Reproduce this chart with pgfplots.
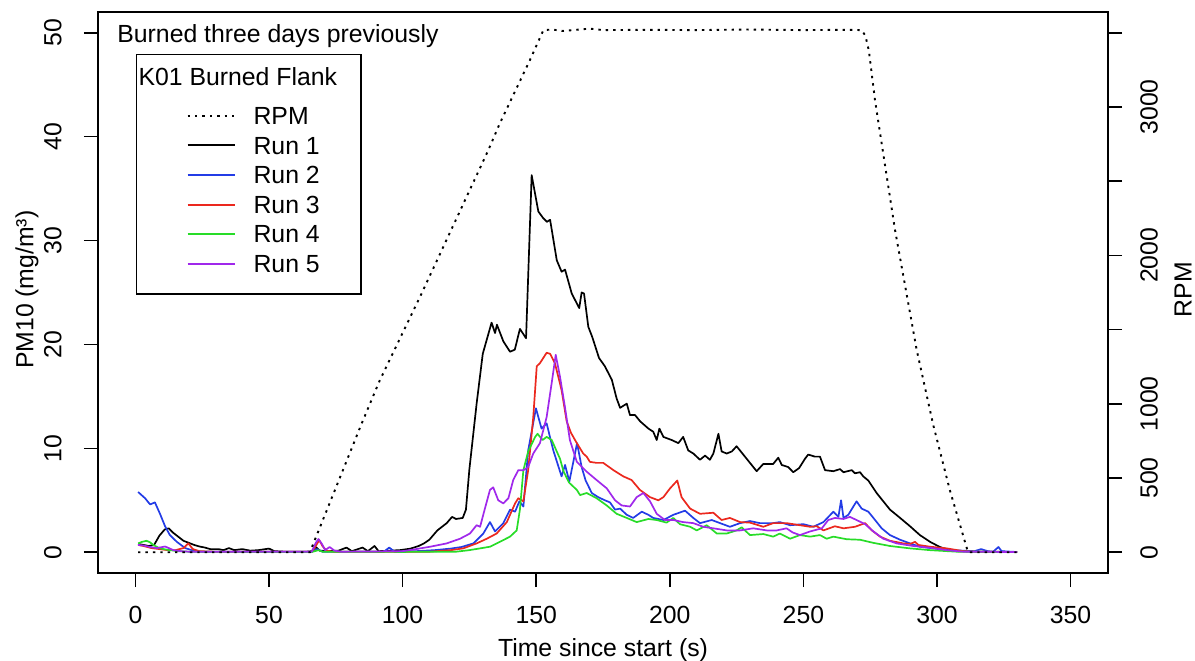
\documentclass[border=0pt]{standalone}
\usepackage{fontspec}
\setmainfont{Liberation Sans}
\usepackage{pgfplots}
\pgfplotsset{compat=1.18}
\newcommand\fs{\fontsize{12.4bp}{14.8bp}\selectfont}
\definecolor{rblue}{RGB}{35,60,230}
\definecolor{rred}{RGB}{235,40,30}
\definecolor{rgreen}{RGB}{40,220,40}
\definecolor{rpurple}{RGB}{160,40,235}
\tikzset{rpmline/.style={black, line width=0.95bp, dash pattern=on 1.2bp off 2.5bp}}
\begin{document}
\begin{tikzpicture}
\useasboundingbox (-49bp,-44bp) rectangle (548.5bp,286.5bp);
\begin{axis}[
  at={(0,0)}, anchor=south west,
  scale only axis, width=505bp, height=280.5bp,
  xmin=-14, xmax=364, ymin=-2, ymax=52,
  xtick={0,50,...,350}, ytick={0,10,...,50},
  xtick pos=left, ytick pos=left,
  tick align=outside, major tick length=7bp,
  tick style={black, line width=0.8bp},
  axis line style={black, line width=0.8bp},
  font=\fs,
  /pgf/number format/assume math mode=true,
  ticklabel style={font=\fs},
  yticklabel style={xshift=-11bp, rotate=90, anchor=south, inner sep=0pt},
  xticklabel style={yshift=-9.5bp, anchor=north, inner sep=0pt},
  xlabel={Time since start (s)},
  ylabel={PM10 (mg/m³)},
  xlabel style={at={(axis description cs:0.5,-0.137)}, anchor=center, font=\fs},
  ylabel style={at={(axis description cs:-0.0703,0.505)}, anchor=center, font=\fs},
  legend style={at={(0.0376,0.9251)}, anchor=north west, draw=black, line width=0.7bp,
    inner xsep=0pt, inner ysep=4.85bp, row sep=0pt, column sep=0pt,
    nodes={inner sep=0pt, anchor=base west, font=\fs, text height=10.4bp, text depth=4.4bp},
    cells={anchor=base west}},
  legend image code/.code={\path (-25bp,0bp) (32.5bp,0bp); \draw[#1, line width=1bp] (0bp,4.3bp) -- (23.5bp,4.3bp);},
  every axis plot/.append style={line width=0.85bp, line join=round},
]
\addlegendimage{empty legend}
\addlegendentry[text depth=9.2bp]{\hspace*{-57.5bp}K01 Burned Flank\hspace*{12bp}}
\addlegendimage{rpmline}
\addlegendentry{RPM}
% Run 1
\addplot[black] coordinates {
(1,0.8) (3,0.7) (5,0.6) (7,0.7) (9,1.6) (11,2.2) (12.5,2.3) (14,1.9) (16,1.5) (18,1.1) (20,0.9) (22,0.7) (24,0.55) (26,0.45) (28,0.3) (31,0.3) (33,0.2) (35,0.4) (37,0.2) (40,0.3) (43,0.15) (46,0.2) (50,0.35) (52,0.1) (56,0.05) (60,0.05) (64,0.05) (66,0.1) (67.5,0.5) (69,0.15) (72,0.1) (76,0.15) (79,0.45) (81,0.1) (85,0.45) (87,0.1) (89.5,0.6) (91,0.1) (95,0.15) (99,0.2) (103,0.35) (106,0.6) (108,0.85) (110,1.2) (113,2.1) (116.5,2.8) (118.5,3.4) (120,3.2) (122.5,3.3) (123.7,4.1) (125,8.0) (127.7,14.3) (130,19.1) (133.3,22.1) (134.6,21.1) (135.3,21.9) (137.7,20.3) (140.2,19.3) (142,19.5) (143.9,21.5) (146.2,20.6) (148.3,36.3) (150.8,32.8) (152.5,32.2) (154,31.8) (155.2,32.0) (157.7,28.1) (159.5,27.0) (160.8,27.2) (163.3,24.9) (166.1,23.5) (167,25.0) (167.9,24.9) (169.5,21.7) (171,20.7) (173.5,18.7) (175.7,17.9) (178.3,16.6) (180.1,14.8) (181.4,13.9) (183.9,14.3) (185.1,13.2) (187,13.2) (188.9,12.6) (192,11.9) (193.8,11.6) (195.1,10.8) (196.1,11.9) (197.6,11.1) (200.7,10.8) (203.2,10.5) (205,11.1) (206.9,9.8) (208.8,9.5) (211.3,8.9) (213.2,9.3) (215,8.9) (216.3,9.5) (218.2,11.4) (219.4,9.7) (221.3,9.5) (223.2,9.7) (225,10.2) (227.5,9.4) (230,8.6) (232.5,7.8) (235,8.5) (238.7,8.5) (240.6,9.1) (241.9,8.4) (244.3,8.2) (246.2,7.7) (248.4,8.1) (250.6,9.0) (251.8,9.4) (253.1,9.3) (254.3,9.2) (256.2,9.2) (258.1,7.9) (261.2,7.8) (263.7,8.0) (265,7.7) (268.1,7.9) (269.3,7.6) (271.2,7.7) (272.4,7.3) (274.3,6.9) (277.4,5.7) (279.9,4.9) (282.4,4.1) (286.2,3.3) (289.9,2.5) (293.6,1.65) (297.4,1.0) (301.1,0.5) (304.8,0.2) (308,0.1) (315,0.05) (322,0.05) (330,0.02)
};
\addlegendentry{Run 1}
% Run 2
\addplot[rblue] coordinates {
(1,5.8) (3.6,5.2) (5.5,4.6) (7.3,4.8) (9.2,3.7) (11.1,2.5) (12.9,1.65) (15.5,1.0) (18.6,0.4) (21.7,0.15) (25,0.05) (35,0.05) (50,0.05) (66,0.05) (68,0.3) (70,0.05) (93,0.05) (95,0.45) (97,0.05) (105,0.1) (112,0.2) (118,0.35) (122,0.5) (126.5,0.85) (130.2,1.8) (132.7,2.9) (134.6,2.0) (137.7,2.8) (140.2,4.1) (142.1,3.9) (143.7,4.9) (145.2,4.4) (147,9.8) (149.9,13.85) (152,11.9) (153.9,12.4) (156.4,9.8) (159.5,7.3) (160.8,8.4) (162.4,6.8) (165.3,10.5) (167,8.2) (168.5,6.9) (170.8,5.7) (173.2,5.3) (175.7,5.0) (177.6,4.8) (179.5,4.1) (181.4,4.2) (183.9,3.6) (186.3,3.3) (189.5,3.9) (192,3.6) (193.8,3.3) (197.6,3.1) (201.3,3.6) (205.7,4.0) (208.8,3.3) (211.3,2.8) (215.7,3.1) (218.8,2.8) (222.5,2.45) (226.3,2.8) (230,3.0) (233.7,2.8) (238.7,2.8) (241.2,2.9) (245,2.6) (250,2.7) (253.7,2.45) (257.5,2.9) (261.2,3.9) (263.1,3.4) (264.1,5.0) (265,3.3) (266.8,3.6) (268.7,4.4) (269.9,4.9) (271.8,4.2) (274.3,3.9) (276.2,3.3) (279.3,2.3) (282.4,1.65) (286.2,1.2) (289.9,0.85) (293.6,0.53) (298.6,0.37) (303.6,0.2) (309.9,0.15) (314,0.1) (316.5,0.3) (319,0.1) (321,0.05) (323,0.5) (324.2,0.1) (330,0.02)
};
\addlegendentry{Run 2}
% Run 3
\addplot[rred] coordinates {
(1,0.7) (3,0.6) (6,0.4) (9,0.3) (12,0.2) (15,0.2) (18,0.4) (19.8,0.85) (21.5,0.3) (24,0.1) (30,0.05) (50,0.05) (66,0.05) (67.5,0.6) (68.8,1.17) (70,0.6) (71.5,0.15) (74,0.05) (110,0.05) (118,0.2) (122.7,0.37) (127.7,0.85) (131.5,1.3) (135.2,1.8) (139,2.9) (142.1,4.7) (143.3,5.2) (145.2,4.9) (147,7.9) (148.9,13.0) (150.2,17.9) (151.4,18.2) (153.9,19.2) (155.2,19.1) (157,18.2) (159.5,15.6) (161.4,12.6) (163,11.5) (165.2,10.5) (167.6,9.5) (168.9,9.2) (170.1,8.7) (172.6,8.6) (175.1,8.6) (178.9,7.9) (182.6,7.3) (185.7,6.95) (188.8,6.0) (192.6,5.3) (195.7,5.0) (197.6,5.3) (200.1,6.15) (202.8,6.9) (204.4,5.3) (207.6,4.2) (211.3,3.7) (216.3,3.8) (219.4,3.1) (222.5,3.3) (226.3,2.9) (230,2.85) (235,2.45) (238.7,2.8) (243.7,2.8) (248.7,2.6) (252.5,2.45) (255,2.5) (257.5,2.1) (261.8,2.5) (265,2.3) (269.3,2.45) (273.1,2.8) (275.6,2.1) (278.7,1.5) (282.4,1.1) (287.4,0.85) (290,0.8) (291.8,1.0) (293,0.7) (297.4,0.53) (303.6,0.37) (309.9,0.1) (315,0.05) (330,0.02)
};
\addlegendentry{Run 3}
% Run 4
\addplot[rgreen] coordinates {
(1,0.85) (2.5,1.0) (4.2,1.1) (5.5,0.95) (6.7,0.7) (8.5,0.45) (10.5,0.3) (13,0.2) (16,0.1) (20,0.05) (40,0.03) (66,0.02) (68.5,0.2) (70,0.05) (100,0.03) (120,0.05) (125,0.2) (129,0.37) (132.7,0.53) (136.4,1.0) (140.2,1.5) (142.7,2.1) (143.9,4.1) (145.2,7.9) (147,9.7) (149.6,11.1) (150.5,11.4) (152.4,10.8) (153.9,11.1) (155.8,10.8) (158.9,9.0) (160.2,7.8) (162.3,6.7) (165.2,6.0) (166.4,5.5) (168.9,5.7) (172.6,5.2) (176.4,4.5) (180.1,3.7) (183.9,3.3) (187.6,2.9) (192,3.2) (195.1,3.1) (198.8,2.85) (201.3,3.3) (203.8,2.7) (207.6,2.45) (210.1,2.1) (213.8,2.6) (217.6,1.8) (221.3,1.8) (225,2.1) (226.9,2.4) (230,1.65) (235,1.75) (238.7,1.5) (241.2,1.8) (245,1.3) (248.7,1.65) (252.5,1.5) (256.2,1.65) (258.7,1.3) (261.2,1.5) (266.2,1.25) (271.2,1.2) (276.2,0.9) (282.4,0.6) (289.9,0.37) (297.4,0.2) (307.4,0.05) (330,0.02)
};
\addlegendentry{Run 4}
% Run 5
\addplot[rpurple] coordinates {
(1,0.7) (3,0.65) (5.5,0.5) (8,0.4) (11.1,0.55) (12.5,0.4) (14.2,0.2) (17,0.1) (20,0.05) (40,0.05) (66,0.05) (67.5,0.9) (68.5,1.27) (69.8,0.8) (71,0.2) (72.7,0.5) (74.5,0.15) (77,0.05) (100,0.1) (105,0.3) (110.3,0.53) (116.5,0.85) (121.5,1.3) (125.2,1.8) (127.7,2.6) (129,2.45) (130.8,4.2) (132.7,6.0) (133.9,6.25) (135.8,5.0) (137.7,4.7) (139.6,5.2) (141.4,6.95) (143.3,7.9) (145.2,7.9) (147,8.2) (148.9,9.5) (151.4,10.5) (153.9,13.0) (155.8,16.3) (157.3,19.0) (158.9,16.9) (160.8,13.9) (162.6,10.8) (165.2,8.7) (168.9,7.75) (172.6,6.95) (176.4,6.15) (179.5,5.0) (182,4.5) (185.1,4.4) (187.6,5.3) (190.1,5.7) (192.6,4.9) (195.1,3.7) (198.2,3.1) (201.3,3.1) (205,2.9) (208.8,2.8) (212.5,2.45) (216.3,2.3) (221.3,2.1) (226.3,2.1) (231.2,2.3) (236.3,2.1) (240,2.1) (243.7,2.3) (246,1.9) (248.7,1.65) (252.5,2.0) (256.9,2.3) (259.3,3.1) (261.8,3.3) (265,3.2) (267.4,3.4) (269.9,3.1) (273.1,2.7) (276.2,2.0) (279.9,1.3) (284.9,0.85) (291.1,0.6) (297.4,0.43) (303.6,0.2) (309.9,0.05) (330,0.02)
};
\addlegendentry[text depth=6.0bp]{Run 5}
\node[anchor=base west, font=\fs, inner sep=0pt] at (axis description cs:0.0188,0.9465) {Burned three days previously};
\end{axis}
\begin{axis}[
  at={(0,0)}, anchor=south west,
  scale only axis, width=505bp, height=280.5bp,
  xmin=-14, xmax=364, ymin=-140, ymax=3640,
  axis x line=none, axis y line*=right,
  ytick={0,500,...,3500}, yticklabels={0,500,1000,,2000,,3000,},
  tick align=outside, major tick length=7bp,
  tick style={black, line width=0.8bp},
  axis line style={black, line width=0.8bp},
  font=\fs,
  ticklabel style={font=\fs},
  yticklabel style={xshift=9bp, rotate=90, anchor=north, inner sep=0pt},
  ylabel={RPM},
  ylabel style={at={(axis description cs:1.0743,0.505)}, anchor=center, rotate=0, font=\fs},
]
\addplot[rpmline] coordinates {
(1,0) (65.3,0) (70,210) (84.7,868) (91.5,1160) (106.5,1720) (132.1,2710) (136.4,2890) (147.7,3318) (152.7,3518) (156,3522) (160,3512) (165,3520) (170,3528) (175,3518) (190,3520) (210,3518) (230,3522) (250,3518) (265,3520) (271.8,3518) (273.2,3480) (274.5,3380) (276.8,3045) (284.3,2170) (292.4,1363) (298.6,857) (304.8,419) (311.6,0) (330,0)
};
\end{axis}
\end{tikzpicture}
\end{document}
